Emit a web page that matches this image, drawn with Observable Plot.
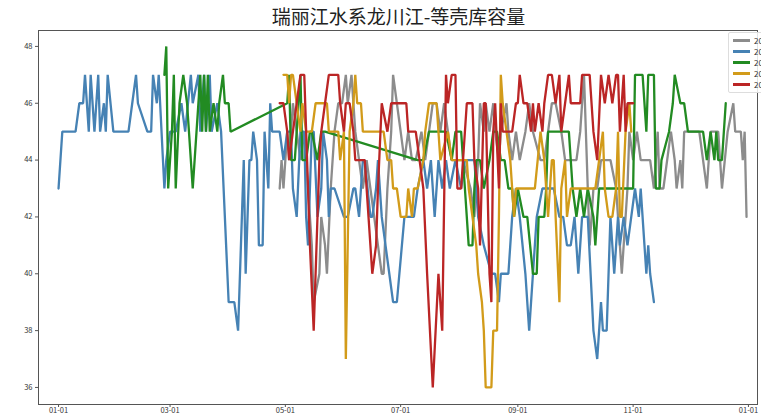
<!DOCTYPE html>
<html><head><meta charset="utf-8">
<script src="https://cdn.jsdelivr.net/npm/d3@7"></script>
<script src="https://cdn.jsdelivr.net/npm/@observablehq/plot@0.6"></script>
<style>
html,body{margin:0;padding:0;background:#fff;width:761px;height:415px;overflow:hidden;position:relative;font-family:'Noto Sans CJK SC',sans-serif;}
#title{height:29px;line-height:32px;font-size:19px;text-align:center;padding-left:36px;color:#222;box-sizing:border-box;}
#chart svg{overflow:visible;display:block;}
#legend{position:absolute;left:728px;top:32px;border:1px solid #ddd;border-radius:2px;background:rgba(255,255,255,0.85);padding:2px 0 2px 4px;font-size:8px;color:#333;white-space:nowrap;}
#legend .item{display:flex;align-items:center;height:11px;}
#legend .sw{width:17px;height:3px;margin-right:4px;}
</style></head>
<body>
<div id="title">瑞丽江水系龙川江-等壳库容量</div>
<div id="chart"></div>
<div id="legend"></div>
<script>
// day-of-year (0 = 01-01) and value pairs
const seriesNames = ["2019", "2020", "2021", "2022", "2023"];
const seriesColors = ["#8c8c8c", "#4682b4", "#228b22", "#d29b1a", "#bb2525"];
const xTickLabels = ["01-01", "03-01", "05-01", "07-01", "09-01", "11-01", "01-01"];
const yTickValues = [36, 38, 40, 42, 44, 46, 48];

const grayData = [[117,43],[118,44],[119,43],[121,45],[122,44],[124,46],[126,45],[128,44],[130,45],[132,43],[134,41],[135,39],[138,40],[139,42],[141,41],[142,40],[144,43],[146,45],[148,46],[150,46],[152,47],[153,46],[155,47],[157,45],[159,44],[161,43],[163,44],[165,43],[167,42],[169,41],[171,40],[172,40],[174,43],[176,45],[177,47],[179,46],[181,45],[183,44],[185,45],[187,44],[189,44],[192,45],[194,44],[196,45],[198,46],[200,46],[202,45],[204,46],[206,45],[208,44],[214,44],[218,43],[220,42],[222,44],[223,46],[225,45],[226,46],[228,45],[230,46],[231,45],[233,44],[234,45],[237,46],[238,45],[240,44],[242,45],[244,44],[247,45],[249,46],[251,45],[255,44],[257,44],[259,45],[261,46],[263,46],[266,45],[268,44],[274,44],[276,45],[278,47],[279,45],[281,41],[283,43],[285,43],[287,44],[292,44],[295,43],[297,41],[298,40],[301,43],[302,45],[304,44],[306,45],[308,44],[313,44],[315,43],[317,45],[318,43],[320,43],[322,44],[324,45],[326,44],[327,43],[329,44],[330,43],[331,45],[339,45],[341,44],[343,43],[345,45],[349,45],[351,43],[354,45],[357,46],[358,45],[361,45],[362,44],[363,45],[364,42]];

const blueData = [[0,43],[2,45],[9,45],[11,46],[13,46],[14,47],[16,45],[17,47],[19,45],[21,47],[22,45],[24,46],[25,45],[26,47],[29,45],[37,45],[39,46],[41,47],[42,46],[47,45],[49,45],[50,47],[52,46],[53,47],[56,43],[57,44],[59,45],[62,45],[65,46],[67,45],[70,47],[71,46],[74,47],[75,45],[77,47],[78,45],[80,47],[81,45],[84,46],[86,45],[88,42],[90,39],[93,39],[95,38],[98,44],[99,40],[101,44],[102,44],[103,45],[105,44],[106,41],[108,41],[109,45],[111,43],[112,46],[113,45],[117,45],[119,44],[121,45],[123,45],[124,43],[126,42],[128,45],[130,45],[131,42],[132,41],[134,45],[135,45],[137,42],[139,43],[140,45],[142,44],[143,42],[144,43],[146,43],[151,42],[153,42],[156,43],[157,43],[159,42],[161,44],[162,44],[165,42],[166,42],[168,43],[169,44],[171,42],[173,41],[175,40],[177,39],[179,39],[183,42],[186,42],[188,42],[190,43],[193,44],[195,43],[197,44],[199,42],[201,44],[203,43],[205,44],[207,43],[210,44],[213,43],[215,44],[218,44],[220,44],[222,42],[225,41],[229,40],[231,40],[233,39],[234,40],[238,40],[240,42],[242,43],[244,42],[247,40],[249,38],[251,40],[253,42],[256,43],[259,43],[262,43],[265,42],[267,42],[269,41],[271,41],[273,42],[275,40],[277,42],[280,42],[283,38],[285,37],[287,39],[288,38],[290,38],[292,42],[294,40],[296,42],[297,41],[299,42],[301,41],[303,42],[305,43],[307,42],[308,43],[310,41],[311,40],[312,41],[313,40],[315,39]];

const greenData = [[56,47],[57,48],[58,43],[60,45],[61,47],[62,43],[64,46],[66,47],[68,46],[69,45],[70,44],[71,43],[73,45],[75,47],[76,45],[77,47],[78,45],[79,47],[80,45],[82,46],[84,45],[85,46],[87,47],[88,46],[90,46],[91,45],[121,46],[122,47],[123,44],[125,44],[126,45],[128,47],[129,44],[131,44],[133,45],[134,45],[137,44],[139,45],[141,45],[190,44],[193,44],[196,45],[201,45],[205,45],[208,44],[210,45],[213,45],[215,43],[217,41],[219,41],[220,43],[221,44],[223,44],[225,43],[228,44],[230,45],[232,45],[234,44],[236,44],[238,43],[240,43],[241,42],[243,43],[246,42],[248,42],[251,40],[253,40],[254,42],[257,42],[258,43],[259,45],[263,45],[270,45],[272,43],[274,42],[276,43],[278,42],[280,43],[283,42],[284,41],[286,43],[304,43],[305,47],[309,47],[311,45],[312,47],[315,47],[316,43],[318,43],[319,44],[323,45],[325,46],[326,47],[329,46],[331,46],[333,45],[341,45],[343,44],[345,45],[347,44],[348,45],[349,44],[351,44],[353,46]];

const orangeData = [[119,47],[121,47],[122,46],[123,47],[124,47],[126,46],[128,45],[129,46],[131,45],[134,45],[136,46],[142,46],[143,45],[148,45],[149,44],[151,45],[152,37],[154,45],[156,46],[157,47],[158,46],[160,46],[161,45],[172,45],[174,44],[176,44],[177,43],[179,43],[181,42],[184,42],[185,43],[187,42],[188,43],[190,43],[193,44],[194,45],[196,46],[200,46],[201,45],[202,44],[206,45],[208,44],[216,44],[217,43],[219,42],[221,41],[222,40],[224,39],[225,38],[226,36],[229,36],[230,38],[232,38],[233,42],[234,47],[235,46],[237,45],[239,44],[241,42],[242,43],[252,43],[255,45],[257,44],[259,42],[261,44],[262,44],[263,42],[265,39],[266,43],[268,44],[269,42],[271,43],[284,43],[286,44],[288,45],[289,43],[291,42],[293,42],[295,43],[296,45],[297,42],[298,42],[300,45],[302,46],[303,45]];

const redData = [[117,46],[119,46],[121,45],[122,44],[124,45],[126,46],[128,47],[130,47],[131,45],[133,41],[135,38],[137,42],[138,44],[139,45],[141,46],[143,47],[148,47],[149,46],[151,45],[152,46],[154,46],[156,45],[157,44],[162,44],[164,42],[166,40],[168,41],[169,43],[171,46],[174,45],[176,46],[184,46],[185,45],[189,45],[191,44],[193,43],[195,40],[198,36],[201,40],[203,38],[205,47],[206,46],[208,47],[210,47],[211,43],[213,43],[214,44],[216,46],[219,46],[220,44],[222,43],[223,41],[225,46],[226,46],[228,40],[229,39],[230,45],[231,46],[233,43],[234,46],[235,45],[240,45],[242,46],[243,46],[244,47],[246,46],[248,46],[250,45],[251,46],[252,45],[254,46],[256,45],[257,46],[259,47],[261,47],[263,46],[265,47],[266,45],[268,46],[270,47],[271,46],[276,46],[277,47],[281,47],[283,45],[285,44],[287,47],[289,46],[291,47],[293,46],[295,47],[296,47],[297,45],[299,47],[300,45],[301,46],[304,46]];

const seriesData = [grayData, blueData, greenData, orangeData, redData];

const DAY = 864e5;
const origin = Date.UTC(2021, 0, 1);
const toDate = d => new Date(origin + d * DAY);

const rows = seriesData.flatMap((data, i) =>
  data.map(([d, v]) => ({name: seriesNames[i], date: toDate(d), value: v})));

const xTicks = [0, 59, 120, 181, 243, 304, 365].map(toDate);

const chart = Plot.plot({
  width: 761,
  height: 386,
  marginLeft: 38,
  marginRight: 4,
  marginTop: 1,
  marginBottom: 11,
  style: {fontFamily: "'Noto Sans CJK SC', sans-serif", fontSize: "7.5px", color: "#333", background: "transparent"},
  x: {type: "utc", domain: [toDate(-10.6), toDate(369.8)]},
  y: {domain: [35.40, 48.56]},
  color: {domain: seriesNames, range: seriesColors},
  marks: [
    Plot.frame({stroke: "#555", strokeWidth: 1}),
    Plot.axisX({ticks: xTicks, tickFormat: (d, i) => xTickLabels[i], tickSize: 3, tickPadding: 0, label: null, stroke: "#555"}),
    Plot.axisY({ticks: yTickValues, tickSize: 3, tickPadding: 3, label: null, stroke: "#555"}),
    Plot.line(rows, {x: "date", y: "value", z: "name", stroke: "name", strokeWidth: 2.3, strokeLinejoin: "miter", curve: "linear"})
  ]
});
document.getElementById("chart").appendChild(chart);

const legend = document.getElementById("legend");
seriesNames.forEach((n, i) => {
  const it = document.createElement("div");
  it.className = "item";
  it.innerHTML = `<span class="sw" style="background:${seriesColors[i]}"></span><span>${n}</span>`;
  legend.appendChild(it);
});
</script>
</body></html>
